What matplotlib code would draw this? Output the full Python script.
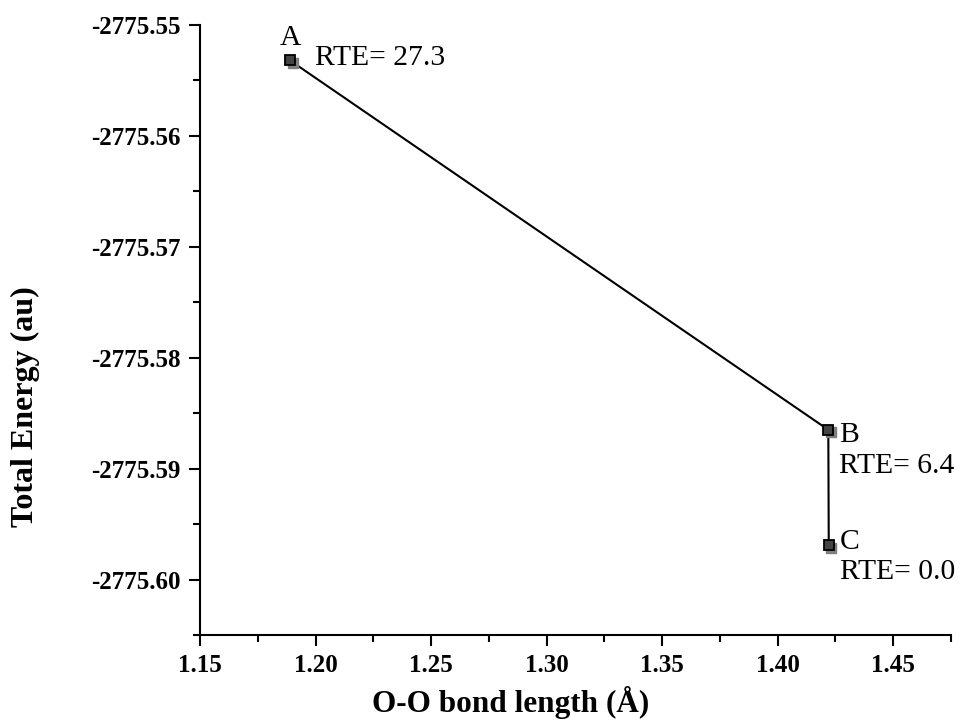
import matplotlib
matplotlib.use("Agg")
import matplotlib.pyplot as plt
from matplotlib.transforms import offset_copy
from matplotlib.ticker import MultipleLocator, FormatStrFormatter

bond_length = [1.189, 1.4219, 1.4221]
energy = [-2775.5532, -2775.5865, -2775.5969]
point_labels = ["A", "B", "C"]
rte_labels = ["RTE= 27.3", "RTE= 6.4", "RTE= 0.0"]

plt.rcParams['font.family'] = ['Liberation Serif', 'DejaVu Serif']
plt.rcParams['mathtext.fontset'] = 'stix'

fig = plt.figure(figsize=(9.61, 7.22), dpi=100)
ax = fig.add_axes([200/961, 1-635/722, (951-200)/961, (635-25)/722])

ax.plot(bond_length, energy, color='black', lw=1.5, zorder=2)
shadow = offset_copy(ax.transData, fig=fig, x=1.8, y=-1.8, units='points')
ax.plot(bond_length, energy, ls='none', marker='s', ms=7.5, mfc='#7f7f7f',
        mec='#7f7f7f', transform=shadow, zorder=3)
ax.plot(bond_length, energy, ls='none', marker='s', ms=7.5, mfc='#444444',
        mec='black', mew=1.3, zorder=4)

fs_ann = 21.3
ax.annotate(point_labels[0], (bond_length[0], energy[0]), xytext=(0, 16),
            textcoords='offset points', ha='center', va='center', fontsize=fs_ann)
ax.annotate(rte_labels[0], (bond_length[0], energy[0]), xytext=(18, 2),
            textcoords='offset points', ha='left', va='center', fontsize=fs_ann)
ax.annotate(point_labels[1], (bond_length[1], energy[1]), xytext=(8, -3.5),
            textcoords='offset points', ha='left', va='center', fontsize=fs_ann)
ax.annotate(rte_labels[1], (bond_length[1], energy[1]), xytext=(8, -26),
            textcoords='offset points', ha='left', va='center', fontsize=fs_ann)
ax.annotate(point_labels[2], (bond_length[2], energy[2]), xytext=(8, 2),
            textcoords='offset points', ha='left', va='center', fontsize=fs_ann)
ax.annotate(rte_labels[2], (bond_length[2], energy[2]), xytext=(8, -19.5),
            textcoords='offset points', ha='left', va='center', fontsize=fs_ann)

ax.set_xlim(1.15, 1.475)
ax.set_ylim(-2775.605, -2775.55)
ax.xaxis.set_major_locator(MultipleLocator(0.05))
ax.xaxis.set_minor_locator(MultipleLocator(0.025))
ax.yaxis.set_major_locator(MultipleLocator(0.01))
ax.yaxis.set_minor_locator(MultipleLocator(0.005))
ax.xaxis.set_major_formatter(FormatStrFormatter('%.2f'))
ax.yaxis.set_major_formatter(FormatStrFormatter('%.2f'))

for s in ['top', 'right']:
    ax.spines[s].set_visible(False)
for s in ['left', 'bottom']:
    ax.spines[s].set_linewidth(1.5)
ax.tick_params(which='major', direction='out', length=8, width=1.5, labelsize=18, pad=6)
ax.tick_params(which='minor', direction='out', length=5, width=1.5)
for lab in ax.get_xticklabels() + ax.get_yticklabels():
    lab.set_fontweight('bold')

ax.set_xlabel('O-O bond length (Å)', fontsize=22.5, fontweight='bold')
ax.set_ylabel('Total Energy (au)', fontsize=23, fontweight='bold')
ax.xaxis.set_label_coords(0.413, -0.083)
ax.yaxis.set_label_coords(-0.213, 0.375)

fig.savefig('out.png', dpi=100)
